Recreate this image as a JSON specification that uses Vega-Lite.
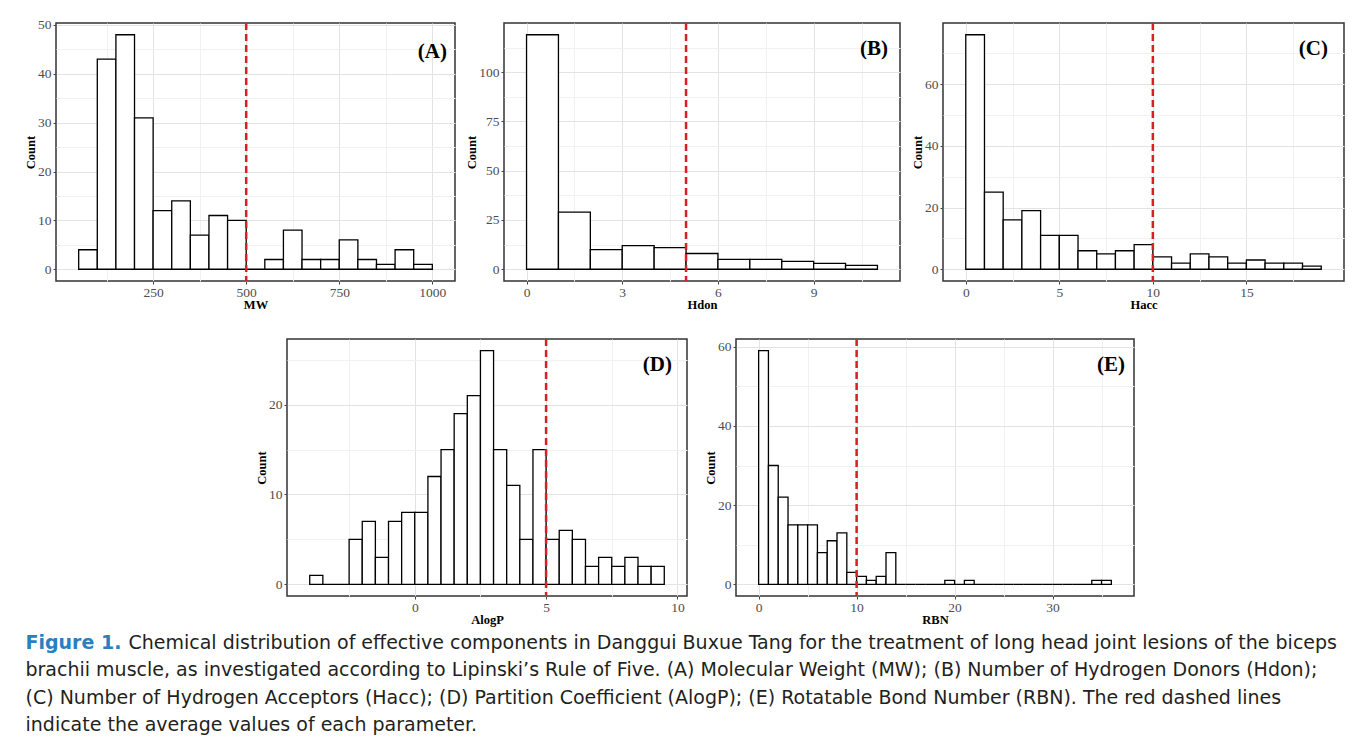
{
  "$schema": "https://vega.github.io/schema/vega-lite/v6.json",
  "background": "white",
  "padding": {"left": 23, "top": 17, "right": 0, "bottom": 0},
  "datasets": {
    "bins": [
      {"p": "A", "s": 50, "e": 100, "c": 4}, {"p": "A", "s": 100, "e": 150, "c": 43}, {"p": "A", "s": 150, "e": 200, "c": 48},
      {"p": "A", "s": 200, "e": 250, "c": 31}, {"p": "A", "s": 250, "e": 300, "c": 12}, {"p": "A", "s": 300, "e": 350, "c": 14},
      {"p": "A", "s": 350, "e": 400, "c": 7}, {"p": "A", "s": 400, "e": 450, "c": 11}, {"p": "A", "s": 450, "e": 500, "c": 10},
      {"p": "A", "s": 500, "e": 550, "c": 0}, {"p": "A", "s": 550, "e": 600, "c": 2}, {"p": "A", "s": 600, "e": 650, "c": 8},
      {"p": "A", "s": 650, "e": 700, "c": 2}, {"p": "A", "s": 700, "e": 750, "c": 2}, {"p": "A", "s": 750, "e": 800, "c": 6},
      {"p": "A", "s": 800, "e": 850, "c": 2}, {"p": "A", "s": 850, "e": 900, "c": 1}, {"p": "A", "s": 900, "e": 950, "c": 4},
      {"p": "A", "s": 950, "e": 1000, "c": 1},
      {"p": "B", "s": 0, "e": 1, "c": 119}, {"p": "B", "s": 1, "e": 2, "c": 29}, {"p": "B", "s": 2, "e": 3, "c": 10},
      {"p": "B", "s": 3, "e": 4, "c": 12}, {"p": "B", "s": 4, "e": 5, "c": 11}, {"p": "B", "s": 5, "e": 6, "c": 8},
      {"p": "B", "s": 6, "e": 7, "c": 5}, {"p": "B", "s": 7, "e": 8, "c": 5}, {"p": "B", "s": 8, "e": 9, "c": 4},
      {"p": "B", "s": 9, "e": 10, "c": 3}, {"p": "B", "s": 10, "e": 11, "c": 2},
      {"p": "C", "s": 0, "e": 1, "c": 76}, {"p": "C", "s": 1, "e": 2, "c": 25}, {"p": "C", "s": 2, "e": 3, "c": 16},
      {"p": "C", "s": 3, "e": 4, "c": 19}, {"p": "C", "s": 4, "e": 5, "c": 11}, {"p": "C", "s": 5, "e": 6, "c": 11},
      {"p": "C", "s": 6, "e": 7, "c": 6}, {"p": "C", "s": 7, "e": 8, "c": 5}, {"p": "C", "s": 8, "e": 9, "c": 6},
      {"p": "C", "s": 9, "e": 10, "c": 8}, {"p": "C", "s": 10, "e": 11, "c": 4}, {"p": "C", "s": 11, "e": 12, "c": 2},
      {"p": "C", "s": 12, "e": 13, "c": 5}, {"p": "C", "s": 13, "e": 14, "c": 4}, {"p": "C", "s": 14, "e": 15, "c": 2},
      {"p": "C", "s": 15, "e": 16, "c": 3}, {"p": "C", "s": 16, "e": 17, "c": 2}, {"p": "C", "s": 17, "e": 18, "c": 2},
      {"p": "C", "s": 18, "e": 19, "c": 1},
      {"p": "D", "s": -4, "e": -3.5, "c": 1}, {"p": "D", "s": -3.5, "e": -3, "c": 0}, {"p": "D", "s": -3, "e": -2.5, "c": 0},
      {"p": "D", "s": -2.5, "e": -2, "c": 5}, {"p": "D", "s": -2, "e": -1.5, "c": 7}, {"p": "D", "s": -1.5, "e": -1, "c": 3},
      {"p": "D", "s": -1, "e": -0.5, "c": 7}, {"p": "D", "s": -0.5, "e": 0, "c": 8}, {"p": "D", "s": 0, "e": 0.5, "c": 8},
      {"p": "D", "s": 0.5, "e": 1, "c": 12}, {"p": "D", "s": 1, "e": 1.5, "c": 15}, {"p": "D", "s": 1.5, "e": 2, "c": 19},
      {"p": "D", "s": 2, "e": 2.5, "c": 21}, {"p": "D", "s": 2.5, "e": 3, "c": 26}, {"p": "D", "s": 3, "e": 3.5, "c": 15},
      {"p": "D", "s": 3.5, "e": 4, "c": 11}, {"p": "D", "s": 4, "e": 4.5, "c": 5}, {"p": "D", "s": 4.5, "e": 5, "c": 15},
      {"p": "D", "s": 5, "e": 5.5, "c": 5}, {"p": "D", "s": 5.5, "e": 6, "c": 6}, {"p": "D", "s": 6, "e": 6.5, "c": 5},
      {"p": "D", "s": 6.5, "e": 7, "c": 2}, {"p": "D", "s": 7, "e": 7.5, "c": 3}, {"p": "D", "s": 7.5, "e": 8, "c": 2},
      {"p": "D", "s": 8, "e": 8.5, "c": 3}, {"p": "D", "s": 8.5, "e": 9, "c": 2}, {"p": "D", "s": 9, "e": 9.5, "c": 2},
      {"p": "E", "s": 0, "e": 1, "c": 59}, {"p": "E", "s": 1, "e": 2, "c": 30}, {"p": "E", "s": 2, "e": 3, "c": 22},
      {"p": "E", "s": 3, "e": 4, "c": 15}, {"p": "E", "s": 4, "e": 5, "c": 15}, {"p": "E", "s": 5, "e": 6, "c": 15},
      {"p": "E", "s": 6, "e": 7, "c": 8}, {"p": "E", "s": 7, "e": 8, "c": 11}, {"p": "E", "s": 8, "e": 9, "c": 13},
      {"p": "E", "s": 9, "e": 10, "c": 3}, {"p": "E", "s": 10, "e": 11, "c": 2}, {"p": "E", "s": 11, "e": 12, "c": 1},
      {"p": "E", "s": 12, "e": 13, "c": 2}, {"p": "E", "s": 13, "e": 14, "c": 8}, {"p": "E", "s": 14, "e": 15, "c": 0},
      {"p": "E", "s": 15, "e": 16, "c": 0}, {"p": "E", "s": 16, "e": 17, "c": 0}, {"p": "E", "s": 17, "e": 18, "c": 0},
      {"p": "E", "s": 18, "e": 19, "c": 0}, {"p": "E", "s": 19, "e": 20, "c": 1}, {"p": "E", "s": 20, "e": 21, "c": 0},
      {"p": "E", "s": 21, "e": 22, "c": 1}, {"p": "E", "s": 22, "e": 23, "c": 0}, {"p": "E", "s": 23, "e": 24, "c": 0},
      {"p": "E", "s": 24, "e": 25, "c": 0}, {"p": "E", "s": 25, "e": 26, "c": 0}, {"p": "E", "s": 26, "e": 27, "c": 0},
      {"p": "E", "s": 27, "e": 28, "c": 0}, {"p": "E", "s": 28, "e": 29, "c": 0}, {"p": "E", "s": 29, "e": 30, "c": 0},
      {"p": "E", "s": 30, "e": 31, "c": 0}, {"p": "E", "s": 31, "e": 32, "c": 0}, {"p": "E", "s": 32, "e": 33, "c": 0},
      {"p": "E", "s": 33, "e": 34, "c": 0}, {"p": "E", "s": 34, "e": 35, "c": 1}, {"p": "E", "s": 35, "e": 36, "c": 1}
    ],
    "means": [
      {"p": "A", "m": 500}, {"p": "B", "m": 5}, {"p": "C", "m": 10}, {"p": "D", "m": 5}, {"p": "E", "m": 10}
    ],
    "caption": [
      {"line": 1, "part": "fig", "text": "Figure 1."},
      {"line": 1, "part": "first", "text": "Chemical distribution of effective components in Danggui Buxue Tang for the treatment of long head joint lesions of the biceps"},
      {"line": 2, "part": "body", "text": "brachii muscle, as investigated according to Lipinski’s Rule of Five. (A) Molecular Weight (MW); (B) Number of Hydrogen Donors (Hdon);"},
      {"line": 3, "part": "body", "text": "(C) Number of Hydrogen Acceptors (Hacc); (D) Partition Coefficient (AlogP); (E) Rotatable Bond Number (RBN). The red dashed lines"},
      {"line": 4, "part": "body", "text": "indicate the average values of each parameter."}
    ]
  },
  "align": "none",
  "vconcat": [
    {
      "spacing": 25,
      "align": "none",
      "vconcat": [
        {
          "spacing": 9,
          "hconcat": [
            {
              "width": 399, "height": 258,
              "title": {"text": "(A)", "anchor": "end", "offset": -44, "dx": -8},
              "layer": [
                {
                  "data": {"name": "bins"},
                  "transform": [{"filter": "datum.p === 'A'"}],
                  "mark": {"type": "bar", "orient": "vertical", "fill": "white", "stroke": "black", "strokeWidth": 1.3},
                  "encoding": {
                    "x": {"field": "s", "type": "quantitative", "title": "MW",
                      "scale": {"domain": [2.5, 1047.5], "nice": false, "zero": false},
                      "axis": {"values": [125, 250, 375, 500, 625, 750, 875, 1000], "format": "d",
                        "labelExpr": "datum.value % 250 === 0 ? datum.label : ''",
                        "gridColor": {"condition": {"test": "datum.value % 250 !== 0", "value": "#f1f1f1"}, "value": "#e3e3e3"},
                        "tickOpacity": {"condition": {"test": "datum.value % 250 !== 0", "value": 0}, "value": 1}}},
                    "x2": {"field": "e"},
                    "y": {"field": "c", "type": "quantitative", "title": "Count",
                      "scale": {"domain": [-2.4, 50.4], "nice": false, "zero": false},
                      "axis": {"values": [0, 5, 10, 15, 20, 25, 30, 35, 40, 45, 50],
                        "labelExpr": "datum.value % 10 === 0 ? datum.label : ''",
                        "gridColor": {"condition": {"test": "datum.value % 10 !== 0", "value": "#f1f1f1"}, "value": "#e3e3e3"},
                        "tickOpacity": {"condition": {"test": "datum.value % 10 !== 0", "value": 0}, "value": 1}}}
                  }
                },
                {
                  "data": {"name": "means"},
                  "transform": [{"filter": "datum.p === 'A'"}],
                  "mark": {"type": "rule", "color": "#d42026", "strokeDash": [7, 4], "strokeWidth": 2.5},
                  "encoding": {"x": {"field": "m", "type": "quantitative", "title": "MW",
                    "scale": {"domain": [2.5, 1047.5], "nice": false, "zero": false},
                    "axis": {"values": [125, 250, 375, 500, 625, 750, 875, 1000], "format": "d",
                        "labelExpr": "datum.value % 250 === 0 ? datum.label : ''",
                        "gridColor": {"condition": {"test": "datum.value % 250 !== 0", "value": "#f1f1f1"}, "value": "#e3e3e3"},
                        "tickOpacity": {"condition": {"test": "datum.value % 250 !== 0", "value": 0}, "value": 1}}}}
                }
              ]
            },
            {
              "width": 396, "height": 258,
              "title": {"text": "(B)", "anchor": "end", "offset": -37, "dx": -12},
              "layer": [
                {
                  "data": {"name": "bins"},
                  "transform": [{"filter": "datum.p === 'B'"}],
                  "mark": {"type": "bar", "orient": "vertical", "fill": "white", "stroke": "black", "strokeWidth": 1.3},
                  "encoding": {
                    "x": {"field": "s", "type": "quantitative", "title": "Hdon",
                      "scale": {"domain": [-0.55, 11.55], "nice": false, "zero": false},
                      "axis": {"values": [0, 1.5, 3, 4.5, 6, 7.5, 9, 10.5],
                        "labelExpr": "datum.value % 3 === 0 ? datum.label : ''",
                        "gridColor": {"condition": {"test": "datum.value % 3 !== 0", "value": "#f1f1f1"}, "value": "#e3e3e3"},
                        "tickOpacity": {"condition": {"test": "datum.value % 3 !== 0", "value": 0}, "value": 1}}},
                    "x2": {"field": "e"},
                    "y": {"field": "c", "type": "quantitative", "title": "Count",
                      "scale": {"domain": [-5.95, 124.95], "nice": false, "zero": false},
                      "axis": {"values": [0, 12.5, 25, 37.5, 50, 62.5, 75, 87.5, 100, 112.5],
                        "labelExpr": "datum.value % 25 === 0 ? datum.label : ''",
                        "gridColor": {"condition": {"test": "datum.value % 25 !== 0", "value": "#f1f1f1"}, "value": "#e3e3e3"},
                        "tickOpacity": {"condition": {"test": "datum.value % 25 !== 0", "value": 0}, "value": 1}}}
                  }
                },
                {
                  "data": {"name": "means"},
                  "transform": [{"filter": "datum.p === 'B'"}],
                  "mark": {"type": "rule", "color": "#d42026", "strokeDash": [7, 4], "strokeWidth": 2.5},
                  "encoding": {"x": {"field": "m", "type": "quantitative", "title": "Hdon",
                    "scale": {"domain": [-0.55, 11.55], "nice": false, "zero": false},
                    "axis": {"values": [0, 1.5, 3, 4.5, 6, 7.5, 9, 10.5],
                        "labelExpr": "datum.value % 3 === 0 ? datum.label : ''",
                        "gridColor": {"condition": {"test": "datum.value % 3 !== 0", "value": "#f1f1f1"}, "value": "#e3e3e3"},
                        "tickOpacity": {"condition": {"test": "datum.value % 3 !== 0", "value": 0}, "value": 1}}}}
                }
              ]
            },
            {
              "width": 401, "height": 258,
              "title": {"text": "(C)", "anchor": "end", "offset": -37, "dx": -16},
              "layer": [
                {
                  "data": {"name": "bins"},
                  "transform": [{"filter": "datum.p === 'C'"}],
                  "mark": {"type": "bar", "orient": "vertical", "fill": "white", "stroke": "black", "strokeWidth": 1.3},
                  "encoding": {
                    "x": {"field": "s", "type": "quantitative", "title": "Hacc",
                      "scale": {"domain": [-0.95, 19.95], "nice": false, "zero": false},
                      "axis": {"values": [0, 2.5, 5, 7.5, 10, 12.5, 15, 17.5],
                        "labelExpr": "datum.value % 5 === 0 ? datum.label : ''",
                        "gridColor": {"condition": {"test": "datum.value % 5 !== 0", "value": "#f1f1f1"}, "value": "#e3e3e3"},
                        "tickOpacity": {"condition": {"test": "datum.value % 5 !== 0", "value": 0}, "value": 1}}},
                    "x2": {"field": "e"},
                    "y": {"field": "c", "type": "quantitative", "title": "Count",
                      "scale": {"domain": [-3.8, 79.8], "nice": false, "zero": false},
                      "axis": {"values": [0, 10, 20, 30, 40, 50, 60, 70],
                        "labelExpr": "datum.value % 20 === 0 ? datum.label : ''",
                        "gridColor": {"condition": {"test": "datum.value % 20 !== 0", "value": "#f1f1f1"}, "value": "#e3e3e3"},
                        "tickOpacity": {"condition": {"test": "datum.value % 20 !== 0", "value": 0}, "value": 1}}}
                  }
                },
                {
                  "data": {"name": "means"},
                  "transform": [{"filter": "datum.p === 'C'"}],
                  "mark": {"type": "rule", "color": "#d42026", "strokeDash": [7, 4], "strokeWidth": 2.5},
                  "encoding": {"x": {"field": "m", "type": "quantitative", "title": "Hacc",
                    "scale": {"domain": [-0.95, 19.95], "nice": false, "zero": false},
                    "axis": {"values": [0, 2.5, 5, 7.5, 10, 12.5, 15, 17.5],
                        "labelExpr": "datum.value % 5 === 0 ? datum.label : ''",
                        "gridColor": {"condition": {"test": "datum.value % 5 !== 0", "value": "#f1f1f1"}, "value": "#e3e3e3"},
                        "tickOpacity": {"condition": {"test": "datum.value % 5 !== 0", "value": 0}, "value": 1}}}}
                }
              ]
            }
          ]
        },
        {
          "spacing": 15,
          "hconcat": [
            {
              "width": 183, "height": 1,
              "view": {"stroke": null},
              "data": {"values": []},
              "mark": {"type": "point", "opacity": 0}
            },
            {
              "width": 400, "height": 257,
              "title": {"text": "(D)", "anchor": "end", "offset": -37, "dx": -15},
              "layer": [
                {
                  "data": {"name": "bins"},
                  "transform": [{"filter": "datum.p === 'D'"}],
                  "mark": {"type": "bar", "orient": "vertical", "fill": "white", "stroke": "black", "strokeWidth": 1.3},
                  "encoding": {
                    "x": {"field": "s", "type": "quantitative", "title": "AlogP",
                      "scale": {"domain": [-4.675, 10.175], "nice": false, "zero": false},
                      "axis": {"values": [-2.5, 0, 2.5, 5, 7.5, 10],
                        "labelExpr": "datum.value % 5 === 0 ? datum.label : ''",
                        "gridColor": {"condition": {"test": "datum.value % 5 !== 0", "value": "#f1f1f1"}, "value": "#e3e3e3"},
                        "tickOpacity": {"condition": {"test": "datum.value % 5 !== 0", "value": 0}, "value": 1}}},
                    "x2": {"field": "e"},
                    "y": {"field": "c", "type": "quantitative", "title": "Count",
                      "scale": {"domain": [-1.3, 27.3], "nice": false, "zero": false},
                      "axis": {"values": [0, 5, 10, 15, 20, 25],
                        "labelExpr": "datum.value % 10 === 0 ? datum.label : ''",
                        "gridColor": {"condition": {"test": "datum.value % 10 !== 0", "value": "#f1f1f1"}, "value": "#e3e3e3"},
                        "tickOpacity": {"condition": {"test": "datum.value % 10 !== 0", "value": 0}, "value": 1}}}
                  }
                },
                {
                  "data": {"name": "means"},
                  "transform": [{"filter": "datum.p === 'D'"}],
                  "mark": {"type": "rule", "color": "#d42026", "strokeDash": [7, 4], "strokeWidth": 2.5},
                  "encoding": {"x": {"field": "m", "type": "quantitative", "title": "AlogP",
                    "scale": {"domain": [-4.675, 10.175], "nice": false, "zero": false},
                    "axis": {"values": [-2.5, 0, 2.5, 5, 7.5, 10],
                        "labelExpr": "datum.value % 5 === 0 ? datum.label : ''",
                        "gridColor": {"condition": {"test": "datum.value % 5 !== 0", "value": "#f1f1f1"}, "value": "#e3e3e3"},
                        "tickOpacity": {"condition": {"test": "datum.value % 5 !== 0", "value": 0}, "value": 1}}}}
                }
              ]
            },
            {
              "width": 398, "height": 257,
              "title": {"text": "(E)", "anchor": "end", "offset": -37, "dx": -9},
              "layer": [
                {
                  "data": {"name": "bins"},
                  "transform": [{"filter": "datum.p === 'E'"}],
                  "mark": {"type": "bar", "orient": "vertical", "fill": "white", "stroke": "black", "strokeWidth": 1.3},
                  "encoding": {
                    "x": {"field": "s", "type": "quantitative", "title": "RBN",
                      "scale": {"domain": [-1.8, 37.8], "nice": false, "zero": false},
                      "axis": {"values": [0, 5, 10, 15, 20, 25, 30, 35],
                        "labelExpr": "datum.value % 10 === 0 ? datum.label : ''",
                        "gridColor": {"condition": {"test": "datum.value % 10 !== 0", "value": "#f1f1f1"}, "value": "#e3e3e3"},
                        "tickOpacity": {"condition": {"test": "datum.value % 10 !== 0", "value": 0}, "value": 1}}},
                    "x2": {"field": "e"},
                    "y": {"field": "c", "type": "quantitative", "title": "Count",
                      "scale": {"domain": [-2.95, 61.95], "nice": false, "zero": false},
                      "axis": {"values": [0, 10, 20, 30, 40, 50, 60],
                        "labelExpr": "datum.value % 20 === 0 ? datum.label : ''",
                        "gridColor": {"condition": {"test": "datum.value % 20 !== 0", "value": "#f1f1f1"}, "value": "#e3e3e3"},
                        "tickOpacity": {"condition": {"test": "datum.value % 20 !== 0", "value": 0}, "value": 1}}}
                  }
                },
                {
                  "data": {"name": "means"},
                  "transform": [{"filter": "datum.p === 'E'"}],
                  "mark": {"type": "rule", "color": "#d42026", "strokeDash": [7, 4], "strokeWidth": 2.5},
                  "encoding": {"x": {"field": "m", "type": "quantitative", "title": "RBN",
                    "scale": {"domain": [-1.8, 37.8], "nice": false, "zero": false},
                    "axis": {"values": [0, 5, 10, 15, 20, 25, 30, 35],
                        "labelExpr": "datum.value % 10 === 0 ? datum.label : ''",
                        "gridColor": {"condition": {"test": "datum.value % 10 !== 0", "value": "#f1f1f1"}, "value": "#e3e3e3"},
                        "tickOpacity": {"condition": {"test": "datum.value % 10 !== 0", "value": 0}, "value": 1}}}}
                }
              ]
            }
          ]
        }
      ]
    },
    {
      "width": 1, "height": 110,
      "view": {"stroke": null},
      "data": {"name": "caption"},
      "encoding": {
        "y": {"field": "line", "type": "ordinal", "axis": null, "scale": {"domain": [1, 2, 3, 4]}},
        "text": {"field": "text"}
      },
      "layer": [
        {
          "transform": [{"filter": "datum.part === 'fig'"}],
          "mark": {"type": "text", "align": "left", "baseline": "middle", "font": "DejaVu Sans", "fontSize": 19, "fontWeight": "bold", "color": "#2a7fc1", "dx": -31}
        },
        {
          "transform": [{"filter": "datum.part === 'first'"}],
          "mark": {"type": "text", "align": "left", "baseline": "middle", "font": "DejaVu Sans", "fontSize": 19, "color": "#231f20", "dx": 72}
        },
        {
          "transform": [{"filter": "datum.part === 'body'"}],
          "mark": {"type": "text", "align": "left", "baseline": "middle", "font": "DejaVu Sans", "fontSize": 19, "color": "#231f20", "dx": -31}
        }
      ]
    }
  ],
  "spacing": 2,
  "config": {
    "font": "Liberation Serif",
    "view": {"stroke": "#333333", "strokeWidth": 1.5},
    "title": {"font": "Liberation Serif", "fontSize": 21, "fontWeight": "bold", "color": "black"},
    "axis": {
      "domain": false,
      "labelFont": "Liberation Serif", "labelFontSize": 13.5, "labelColor": "#4d4d4d",
      "titleFont": "Liberation Serif", "titleFontSize": 12.5, "titleFontWeight": "bold", "titleColor": "black",
      "tickColor": "#444444", "tickSize": 3, "labelOverlap": false, "labelFlush": false,
      "gridWidth": 1
    },
    "axisX": {"labelPadding": 1, "titlePadding": 0},
    "axisY": {"labelPadding": 2, "titlePadding": 0}
  }
}
